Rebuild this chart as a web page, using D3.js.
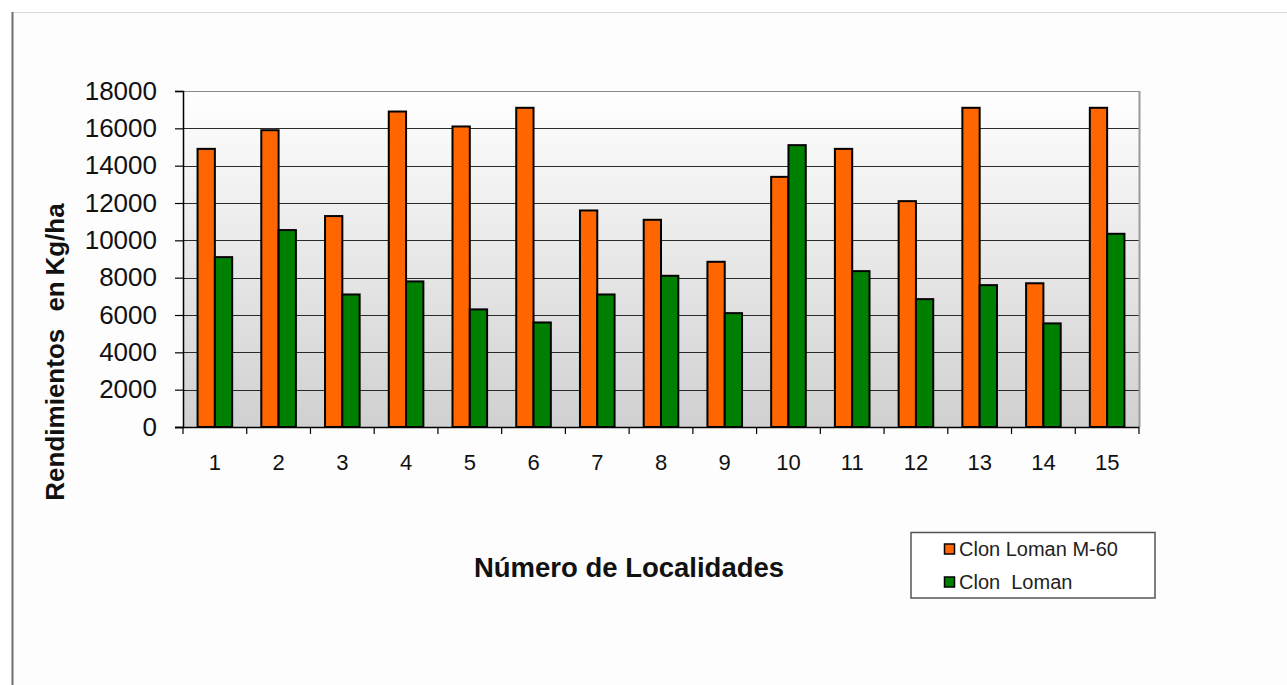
<!DOCTYPE html>
<html>
<head>
<meta charset="utf-8">
<script src="https://cdn.jsdelivr.net/npm/d3@7"></script>
<style>
  html, body { margin: 0; padding: 0; background: #ffffff; }
  svg { display: block; font-family: "Liberation Sans", Arial, sans-serif; }
</style>
</head>
<body>
<svg id="chart" width="1287" height="685"></svg>
<script>
const categories = ["1","2","3","4","5","6","7","8","9","10","11","12","13","14","15"];
const seriesNames = ["Clon Loman M-60", "Clon  Loman"];
const loman60 = [14900, 15900, 11300, 16900, 16100, 17100, 11600, 11100, 8850, 13400, 14900, 12100, 17100, 7700, 17100];
const loman   = [9100, 10550, 7100, 7800, 6300, 5600, 7100, 8100, 6100, 15100, 8350, 6850, 7600, 5550, 10350];
const yTicks  = [0, 2000, 4000, 6000, 8000, 10000, 12000, 14000, 16000, 18000];
const colors  = ["#ff6600", "#008000"];
const xTitle = "Número de Localidades";
const yTitle = "Rendimientos   en Kg/ha";

const svg = d3.select("#chart");
const W = 1287, H = 685;

// outer frame
svg.append("rect").attr("x", 12).attr("y", 12).attr("width", W - 12).attr("height", H - 12).attr("fill", "#fdfdfd");
svg.append("line").attr("x1", 12).attr("x2", W).attr("y1", 12.5).attr("y2", 12.5).attr("stroke", "#d8d8d8").attr("stroke-width", 1);
svg.append("line").attr("x1", 12.5).attr("x2", 12.5).attr("y1", 12).attr("y2", H).attr("stroke", "#6e6e6e").attr("stroke-width", 2);

const L = 183, R = 1139, T = 91, B = 427;

const y = d3.scaleLinear().domain([0, 18000]).range([B, T]);
const pad = 1 - 34.6 / ((R - L) / categories.length);
const x0 = d3.scaleBand().domain(categories).range([L, R]).paddingInner(pad).paddingOuter(pad / 2);
const x1 = d3.scaleBand().domain([0, 1]).range([0, x0.bandwidth()]);

// gradient background
const defs = svg.append("defs");
const grad = defs.append("linearGradient").attr("id", "bg").attr("x1", 0).attr("x2", 0).attr("y1", 0).attr("y2", 1);
grad.append("stop").attr("offset", "0%").attr("stop-color", "#ffffff");
grad.append("stop").attr("offset", "100%").attr("stop-color", "#d0d0d0");
svg.append("rect").attr("x", L).attr("y", T).attr("width", R - L).attr("height", B - T).attr("fill", "url(#bg)");

// gridlines
svg.append("g").selectAll("line").data(yTicks.filter(d => d > 0)).join("line")
  .attr("x1", L).attr("x2", R)
  .attr("y1", d => Math.round(y(d)) + 0.5).attr("y2", d => Math.round(y(d)) + 0.5)
  .attr("stroke", d => d === 18000 ? "#8a8a8a" : "#2a2a2a").attr("stroke-width", 1.2);

// right border
svg.append("line").attr("x1", R + 0.5).attr("x2", R + 0.5).attr("y1", T).attr("y2", B)
  .attr("stroke", "#9a9a9a").attr("stroke-width", 2);

// bars
const data = categories.map((c, i) => ({ c, vals: [loman60[i], loman[i]] }));
const groups = svg.append("g").selectAll("g").data(data).join("g")
  .attr("transform", d => `translate(${x0(d.c)},0)`);
groups.selectAll("rect").data(d => d.vals.map((v, k) => ({ v, k }))).join("rect")
  .attr("x", d => x1(d.k))
  .attr("width", x1.bandwidth())
  .attr("y", d => y(d.v))
  .attr("height", d => B - y(d.v))
  .attr("fill", d => colors[d.k])
  .attr("stroke", "#000").attr("stroke-width", 2);

// y axis
const yAxis = d3.axisLeft(y).tickValues(yTicks).tickSize(8).tickPadding(18).tickFormat(d3.format("d"));
const gy = svg.append("g").attr("transform", `translate(${L},0)`).call(yAxis);
gy.select(".domain").attr("stroke", "#000").attr("stroke-width", 1.5);
gy.selectAll(".tick line").attr("stroke", "#000").attr("stroke-width", 1.2);
gy.selectAll(".tick text").attr("font-size", 26).attr("fill", "#111").attr("font-family", "Liberation Sans, Arial, sans-serif");

// x axis (labels centered in categories, ticks at boundaries)
const step = x0.step();
const xAxis = d3.axisBottom(x0).tickSize(0).tickPadding(27);
const gx = svg.append("g").attr("transform", `translate(0,${B})`).call(xAxis);
gx.select(".domain").remove();
gx.selectAll(".tick text").attr("font-size", 22).attr("fill", "#111").attr("font-family", "Liberation Sans, Arial, sans-serif");
svg.append("line").attr("x1", L - 8).attr("x2", R).attr("y1", B + 0.5).attr("y2", B + 0.5).attr("stroke", "#000").attr("stroke-width", 1.5);
const bounds = d3.range(categories.length + 1).map(i => L + i * step);
svg.append("g").selectAll("line").data(bounds).join("line")
  .attr("x1", d => d).attr("x2", d => d).attr("y1", B).attr("y2", B + 7)
  .attr("stroke", "#000").attr("stroke-width", 1.2);

// titles
svg.append("text").attr("x", 629).attr("y", 577).attr("text-anchor", "middle")
  .attr("font-size", 27.5).attr("font-weight", "bold").attr("fill", "#111").text(xTitle);
svg.append("text").attr("transform", "translate(64,352) rotate(-90)").attr("text-anchor", "middle")
  .attr("font-size", 26).attr("font-weight", "bold").attr("fill", "#111")
  .attr("word-spacing", -1.5)
  .style("white-space", "pre").text(yTitle);

// legend
const lg = svg.append("g");
lg.append("rect").attr("x", 911).attr("y", 532.5).attr("width", 244).attr("height", 65.5)
  .attr("fill", "#ffffff").attr("stroke", "#555").attr("stroke-width", 1.5);
const items = lg.selectAll("g").data(seriesNames).join("g")
  .attr("transform", (d, i) => `translate(944,${549 + i * 33})`);
items.append("rect").attr("x", 0.5).attr("y", -5).attr("width", 10).attr("height", 10)
  .attr("fill", (d, i) => colors[i]).attr("stroke", "#000").attr("stroke-width", 1.5);
items.append("text").attr("x", 15).attr("y", 7).attr("font-size", 20).attr("fill", "#222")
  .style("white-space", "pre").text(d => d);
</script>
</body>
</html>
